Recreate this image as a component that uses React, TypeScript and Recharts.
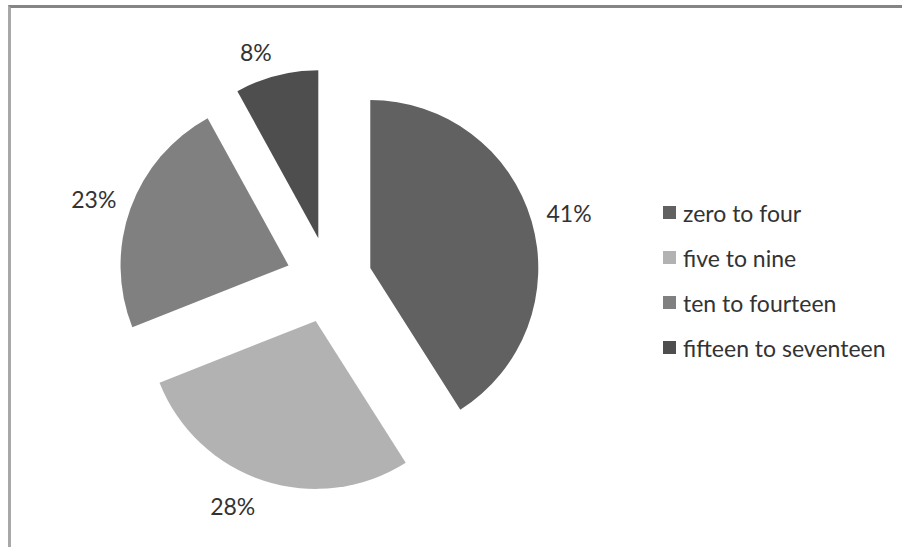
import React from "react";
import { PieChart, Pie, Cell, Legend, Sector } from "recharts";

const categories = ["zero to four", "five to nine", "ten to fourteen", "fifteen to seventeen"];
const values = [41, 28, 23, 8];
const colors = ["#616161", "#b2b2b2", "#808080", "#4e4e4e"];

const data = categories.map((name, i) => ({ name, value: values[i] }));
const total = values.reduce((a, b) => a + b, 0);

const EXPLODE = 43;
const RADIAN = Math.PI / 180;
const FONT = "Lato, 'Open Sans', sans-serif";
const labelNudge: Record<number, [number, number]> = { 1: [-19, -1], 3: [-11, 3] };

const ExplodedSector = (props: any) => {
  const { cx, cy, midAngle } = props;
  const dx = Math.cos(-midAngle * RADIAN) * EXPLODE;
  const dy = Math.sin(-midAngle * RADIAN) * EXPLODE;
  return <Sector {...props} cx={cx + dx} cy={cy + dy} stroke="none" />;
};

const renderLabel = (props: any) => {
  const { cx, cy, midAngle, outerRadius, index, value } = props;
  const ux = Math.cos(-midAngle * RADIAN);
  const uy = Math.sin(-midAngle * RADIAN);
  const ax = cx + ux * EXPLODE;
  const ay = cy + uy * EXPLODE;
  const n = labelNudge[index] || [0, 0];
  const x = ax + ux * (outerRadius + 19 + 20) + n[0];
  const y = ay + uy * (outerRadius + 19 + 9) + n[1];
  return (
    <text x={x} y={y} textAnchor="middle" dominantBaseline="central" fill="#333333" fontSize={23} fontFamily={FONT}>
      {`${Math.round((value / total) * 100)}%`}
    </text>
  );
};

const renderLegend = () => (
  <div style={{ fontFamily: FONT, fontSize: 23, color: "#333333" }}>
    {categories.map((name, i) => (
      <div key={name} style={{ height: 45, display: "flex", alignItems: "center" }}>
        <span style={{ display: "inline-block", width: 13, height: 13, background: colors[i], marginRight: 7 }} />
        <span>{name}</span>
      </div>
    ))}
  </div>
);

export default function App() {
  return (
    <div style={{ position: "fixed", left: 0, top: 0, width: 902, height: 547, background: "#ffffff", overflow: "hidden" }}>
      <div
        style={{
          position: "absolute",
          left: 8,
          top: 5,
          width: 920,
          height: 580,
          borderTop: "3px solid #858585",
          borderLeft: "3px solid #a8a8a8",
          boxSizing: "border-box",
          background: "#ffffff",
        }}
      />
      <div style={{ position: "absolute", left: 0, top: 0 }}>
        <PieChart width={902} height={547} margin={{ top: 0, right: 0, bottom: 0, left: 0 }}>
          <Pie
            data={data}
            dataKey="value"
            nameKey="name"
            cx={329}
            cy={280}
            outerRadius={168}
            startAngle={90}
            endAngle={-270}
            isAnimationActive={false}
            shape={ExplodedSector}
            inactiveShape={ExplodedSector}
            activeShape={ExplodedSector}
            label={renderLabel}
            labelLine={false}
            stroke="none"
          >
            {data.map((_, i) => (
              <Cell key={i} fill={colors[i]} />
            ))}
          </Pie>
          <Legend
            layout="vertical"
            align="right"
            verticalAlign="top"
            content={renderLegend}
            wrapperStyle={{ left: 663, top: 190, width: 239 }}
          />
        </PieChart>
      </div>
    </div>
  );
}
